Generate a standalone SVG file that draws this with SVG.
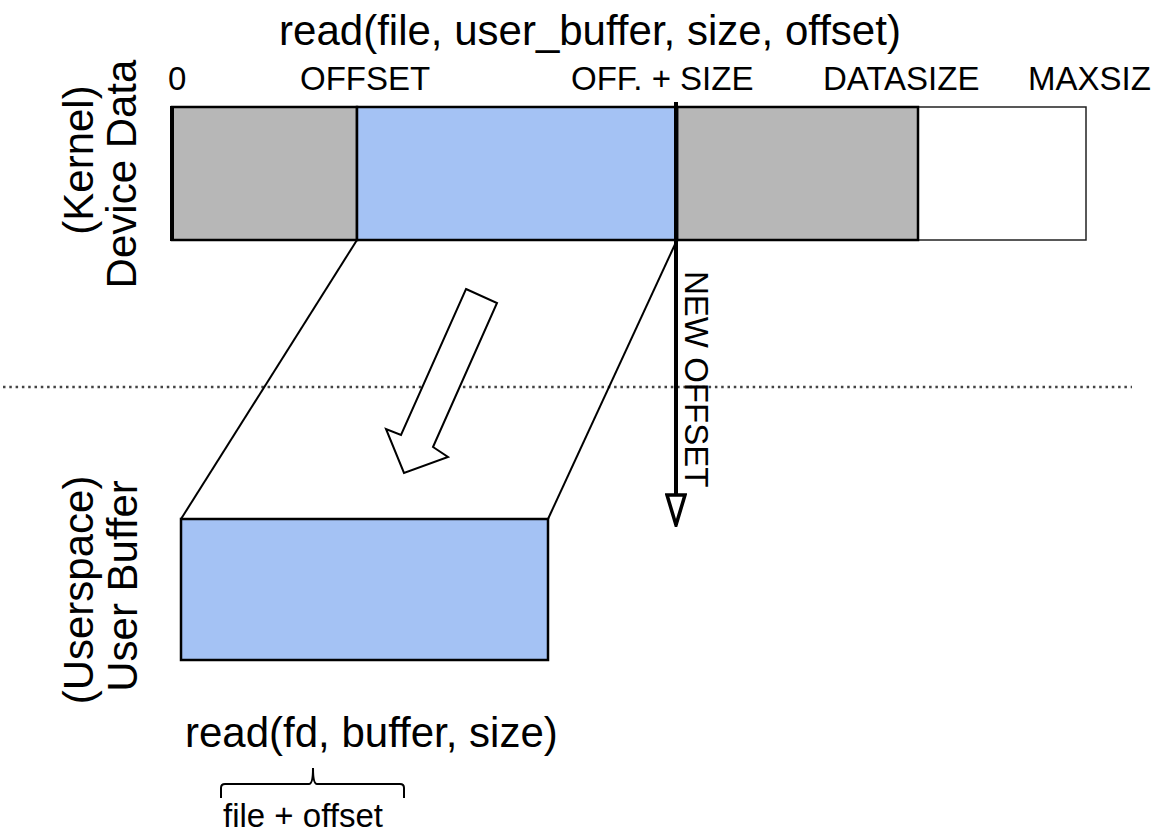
<svg xmlns="http://www.w3.org/2000/svg" width="1166" height="836" viewBox="0 0 1166 836">
  <defs>
    <style>
      text { font-family: "Liberation Sans", Arial, sans-serif; fill: #000; }
      .big { font-size: 42px; }
      .mark { font-size: 33px; }
      .small { font-size: 33px; }
      .gray { fill: #b7b7b7; stroke: #000; stroke-width: 2.5; }
      .blue { fill: #a4c2f4; stroke: #000; stroke-width: 2.5; }
      .free { fill: #fff; stroke: #222; stroke-width: 1.5; }
      .edge { fill: none; stroke: #000; stroke-width: 2; }
    </style>
    <!-- open triangular head, tip along +x -->
    <marker id="openHead" viewBox="0 0 34 22" refX="32" refY="11" markerWidth="34" markerHeight="22" markerUnits="userSpaceOnUse" orient="auto">
      <path d="M2,2 L32,11 L2,20 Z" fill="#fff" stroke="#000" stroke-width="3.5" stroke-linejoin="miter"/>
    </marker>
  </defs>

  <rect width="1166" height="836" fill="#fff"/>

  <!-- call signature of the kernel-side read -->
  <g id="kernel-call">
    <text class="big" x="590" y="45" text-anchor="middle">read(file, user_buffer, size, offset)</text>
  </g>

  <!-- position markers above the data bar -->
  <g id="positions">
    <text class="mark" x="168" y="90">0</text>
    <text class="mark" x="300" y="90">OFFSET</text>
    <text class="mark" x="571" y="90">OFF. + SIZE</text>
    <text class="mark" x="823" y="90">DATASIZE</text>
    <text class="mark" x="1028" y="90">MAXSIZ</text>
  </g>

  <!-- side labels -->
  <g id="kernel-label">
    <text class="big" transform="translate(93,160) rotate(-90)" text-anchor="middle">(Kernel)</text>
    <text class="big" transform="translate(136,174) rotate(-90)" text-anchor="middle">Device Data</text>
  </g>
  <g id="user-label">
    <text class="big" transform="translate(93,590) rotate(-90)" text-anchor="middle">(Userspace)</text>
    <text class="big" transform="translate(137,586) rotate(-90)" text-anchor="middle">User Buffer</text>
  </g>

  <!-- device data bar -->
  <g id="device-data">
    <rect class="free" x="918" y="107" width="168" height="133"/>
    <rect class="gray" x="677" y="107" width="241" height="133"/>
    <rect class="gray" x="172" y="107" width="185" height="133"/>
    <rect class="blue" x="357" y="107" width="320" height="133"/>
    <line x1="172" y1="106" x2="172" y2="241" stroke="#000" stroke-width="4"/>
  </g>

  <!-- user buffer -->
  <g id="user-buffer">
    <rect class="blue" x="181" y="519" width="367" height="141"/>
  </g>

  <!-- kernel / user boundary -->
  <g id="boundary">
    <line x1="3" y1="387" x2="1132" y2="387" stroke="#444" stroke-width="2.5" stroke-dasharray="2.5 3.8"/>
  </g>

  <!-- connectors -->
  <g id="connectors">
    <line class="edge" x1="357" y1="240" x2="181" y2="519"/>
    <line class="edge" x1="677" y1="240" x2="548" y2="519"/>
    <line x1="676" y1="102" x2="676" y2="525" stroke="#000" stroke-width="4" marker-end="url(#openHead)"/>
    <path d="M466,289 L497,303 L433,447 L448,457 L404,473 L386,429 L401,435 Z" fill="#fff" stroke="#000" stroke-width="2" stroke-linejoin="miter"/>
  </g>

  <g id="new-offset-label">
    <text class="mark" transform="translate(685,271) rotate(90)">NEW OFFSET</text>
  </g>

  <!-- userspace call and brace -->
  <g id="user-call">
    <text class="big" x="185" y="747">read(fd, buffer, size)</text>
  </g>
  <g id="brace">
    <path d="M221,798 L221,788 Q221,784 225,784 L309,784 Q313,784 313,768 Q313,784 317,784 L400,784 Q404,784 404,788 L404,798" fill="none" stroke="#000" stroke-width="2"/>
    <text class="small" x="223" y="827">file + offset</text>
  </g>
</svg>
